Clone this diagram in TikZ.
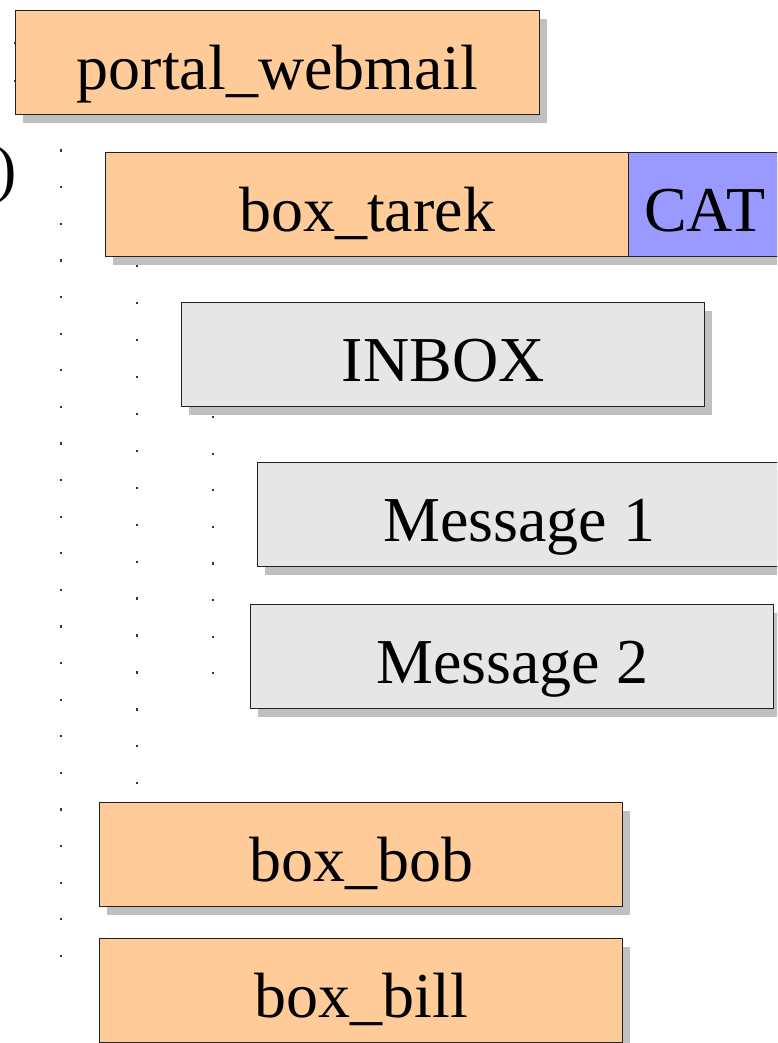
\documentclass[tikz,border=0pt]{standalone}
\usepackage{fontspec}
\setmainfont{Liberation Serif}
\usetikzlibrary{shadows}
\definecolor{boxorange}{HTML}{FFCC99}
\definecolor{boxblue}{HTML}{9999FF}
\definecolor{boxgray}{HTML}{E6E6E6}
\definecolor{shadowgray}{HTML}{C0C0C0}
\definecolor{edgecol}{HTML}{222222}
\tikzset{
  boxnode/.style={rectangle, draw=edgecol, line width=1.3pt, inner sep=0pt,
    minimum height=104pt, text height=54pt, text depth=0pt,
    font=\fontsize{64}{70}\selectfont, anchor=north west,
    drop shadow={shadow xshift=7pt, shadow yshift=-8pt, fill=shadowgray, opacity=1}},
  orangebox/.style={boxnode, fill=boxorange},
  graybox/.style={boxnode, fill=boxgray},
  bluebox/.style={boxnode, fill=boxblue},
  dotmark/.style={fill=black!80, draw=none, minimum width=1.2pt, minimum height=2.2pt, inner sep=0pt, rectangle},
}
\begin{document}
\begin{tikzpicture}[x=1pt,y=-1pt]
\useasboundingbox (0,0) rectangle (777,1043);
\clip (0,0) rectangle (777,1043);
% dotted guide lines
\foreach \i in {0,...,23} {\node[dotmark] (da\i) at (61,114+36.6*\i) {};}
\foreach \i in {0,...,14} {\node[dotmark] (db\i) at (137,266+36.95*\i) {};}
\foreach \i in {0,...,7} {\node[dotmark] (dc\i) at (213,417+36.6*\i) {};}
% partial text at left
\node[anchor=base east, inner sep=0pt, font=\fontsize{64}{70}\selectfont] (paren) at (17,190) {)};
% boxes
\node[orangebox, minimum width=524pt] (portal) at (15,10) {portal\_webmail};
\node[orangebox, minimum width=523pt] (tarek) at (105,152) {box\_tarek};
\node[bluebox, minimum width=152pt] (cat) at (628,152) {CAT};
\node[graybox, minimum width=523pt] (inbox) at (181,302) {INBOX};
\node[graybox, minimum width=523pt] (msg1) at (257,462) {Message 1};
\node[graybox, minimum width=523pt] (msg2) at (250,604) {Message 2};
\node[orangebox, minimum width=523pt] (bob) at (99,802) {box\_bob};
\node[orangebox, minimum width=523pt] (bill) at (99,938) {box\_bill};
% marks on the left edge of the first box
\node[dotmark] (de0) at (14.5,43) {};
\node[dotmark] (de1) at (14.5,81) {};
\end{tikzpicture}
\end{document}
